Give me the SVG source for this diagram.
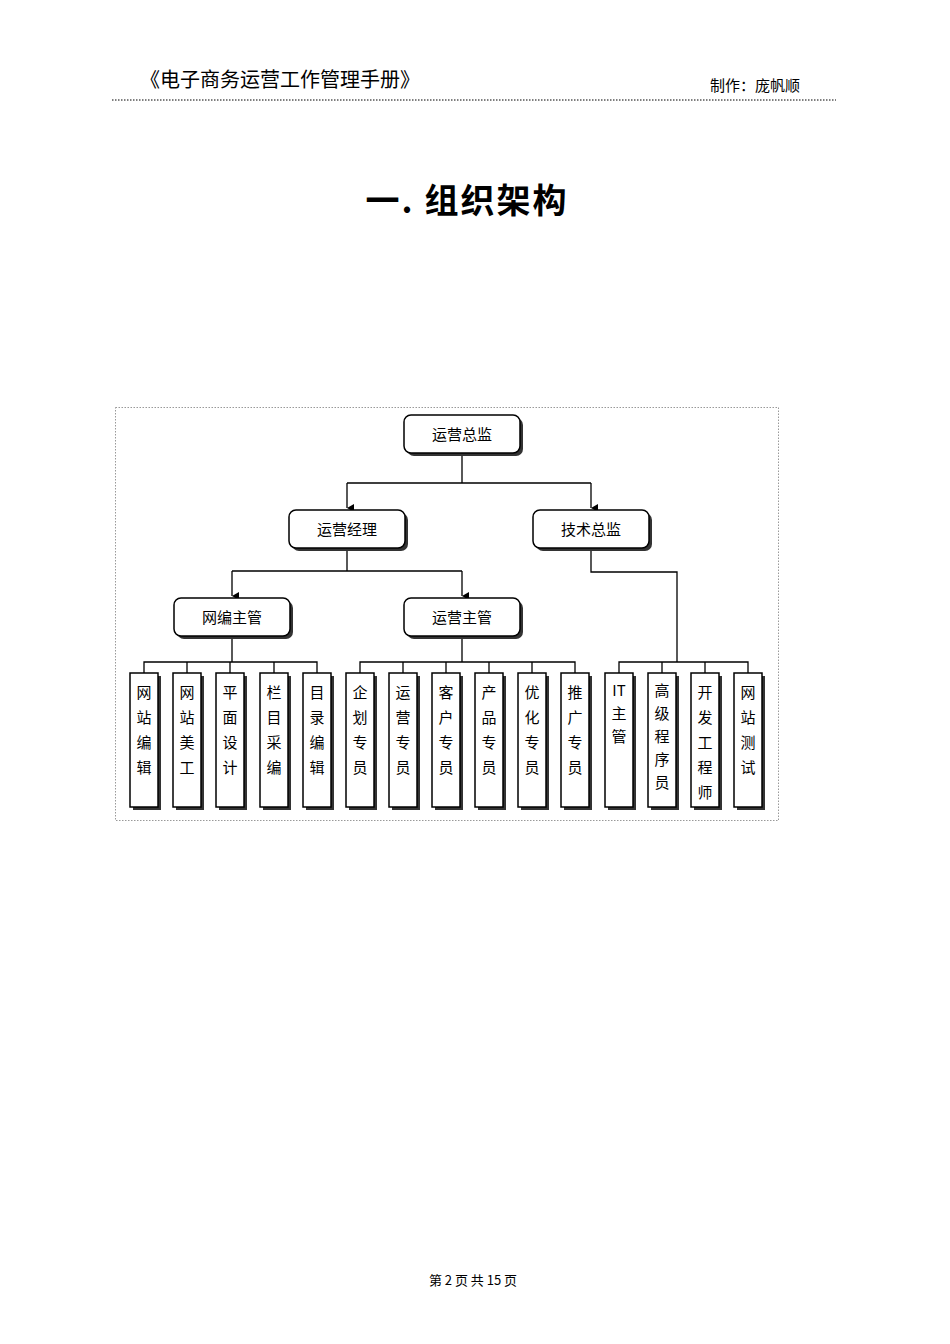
<svg xmlns="http://www.w3.org/2000/svg" width="950" height="1344" viewBox="0 0 950 1344">
<style>
text{font-family:"Noto Sans CJK SC","Liberation Sans",sans-serif;fill:#000}
.box{fill:#fff;stroke:#000;stroke-width:1.5}
.sh{fill:#333}
.ln{fill:none;stroke:#000;stroke-width:1.3}
.t{font-size:15px;text-anchor:middle}
.v{font-size:15px;text-anchor:middle}
</style>
<defs><marker id="a" markerWidth="8" markerHeight="8" refX="4" refY="7" orient="auto" markerUnits="userSpaceOnUse"><path d="M0,0 L8,0 L4,7 z" fill="#000"/></marker></defs>
<rect width="950" height="1344" fill="#fff"/>
<text x="140" y="87" font-size="20">《电子商务运营工作管理手册》</text>
<text x="710" y="91" font-size="15">制作：庞帆顺</text>
<line x1="112" y1="100" x2="836" y2="100" stroke="#000" stroke-dasharray="1.5,1.5"/>
<text x="467" y="213" font-size="34" font-weight="bold" text-anchor="middle" letter-spacing="2">一. 组织架构</text>
<rect x="115.5" y="407.5" width="663" height="413" fill="none" stroke="#999" stroke-dasharray="1.5,1.5"/>
<g id="connectors">
<path class="ln" d="M462,453V483M347,483H591M347,483V508" marker-end="url(#a)"/>
<path class="ln" d="M591,483V508" marker-end="url(#a)"/>
<path class="ln" d="M347,548V571M232,571H462M232,571V596" marker-end="url(#a)"/>
<path class="ln" d="M462,571V596" marker-end="url(#a)"/>
<path class="ln" d="M232,636V662M144,673V662H317V673M187,662V673M230,662V673M274,662V673"/>
<path class="ln" d="M462,636V662M360,673V662H575V673M403,662V673M446,662V673M489,662V673M532,662V673"/>
<path class="ln" d="M591,548V572H677V662M619,673V662H748V673M662,662V673M705,662V673"/>
</g>
<g id="n1"><rect class="sh" x="407" y="418" width="116" height="38" rx="7"/><rect class="box" x="404" y="415" width="116" height="38" rx="7"/><text class="t" x="462" y="440">运营总监</text></g>
<g id="n2"><rect class="sh" x="292" y="513" width="116" height="38" rx="7"/><rect class="box" x="289" y="510" width="116" height="38" rx="7"/><text class="t" x="347" y="535">运营经理</text></g>
<g id="n3"><rect class="sh" x="536" y="513" width="116" height="38" rx="7"/><rect class="box" x="533" y="510" width="116" height="38" rx="7"/><text class="t" x="591" y="535">技术总监</text></g>
<g id="n4"><rect class="sh" x="177" y="601" width="116" height="38" rx="7"/><rect class="box" x="174" y="598" width="116" height="38" rx="7"/><text class="t" x="232" y="623">网编主管</text></g>
<g id="n5"><rect class="sh" x="407" y="601" width="116" height="38" rx="7"/><rect class="box" x="404" y="598" width="116" height="38" rx="7"/><text class="t" x="462" y="623">运营主管</text></g>
<g id="leaves">
<g id="l1"><rect class="sh" x="133" y="676" width="28" height="134"/><rect class="box" x="130" y="673" width="28" height="134"/><text class="v" x="144" y="698">网<tspan x="144" dy="25">站</tspan><tspan x="144" dy="25">编</tspan><tspan x="144" dy="25">辑</tspan></text></g>
<g id="l2"><rect class="sh" x="176" y="676" width="28" height="134"/><rect class="box" x="173" y="673" width="28" height="134"/><text class="v" x="187" y="698">网<tspan x="187" dy="25">站</tspan><tspan x="187" dy="25">美</tspan><tspan x="187" dy="25">工</tspan></text></g>
<g id="l3"><rect class="sh" x="219" y="676" width="28" height="134"/><rect class="box" x="216" y="673" width="28" height="134"/><text class="v" x="230" y="698">平<tspan x="230" dy="25">面</tspan><tspan x="230" dy="25">设</tspan><tspan x="230" dy="25">计</tspan></text></g>
<g id="l4"><rect class="sh" x="263" y="676" width="28" height="134"/><rect class="box" x="260" y="673" width="28" height="134"/><text class="v" x="274" y="698">栏<tspan x="274" dy="25">目</tspan><tspan x="274" dy="25">采</tspan><tspan x="274" dy="25">编</tspan></text></g>
<g id="l5"><rect class="sh" x="306" y="676" width="28" height="134"/><rect class="box" x="303" y="673" width="28" height="134"/><text class="v" x="317" y="698">目<tspan x="317" dy="25">录</tspan><tspan x="317" dy="25">编</tspan><tspan x="317" dy="25">辑</tspan></text></g>
<g id="l6"><rect class="sh" x="349" y="676" width="28" height="134"/><rect class="box" x="346" y="673" width="28" height="134"/><text class="v" x="360" y="698">企<tspan x="360" dy="25">划</tspan><tspan x="360" dy="25">专</tspan><tspan x="360" dy="25">员</tspan></text></g>
<g id="l7"><rect class="sh" x="392" y="676" width="28" height="134"/><rect class="box" x="389" y="673" width="28" height="134"/><text class="v" x="403" y="698">运<tspan x="403" dy="25">营</tspan><tspan x="403" dy="25">专</tspan><tspan x="403" dy="25">员</tspan></text></g>
<g id="l8"><rect class="sh" x="435" y="676" width="28" height="134"/><rect class="box" x="432" y="673" width="28" height="134"/><text class="v" x="446" y="698">客<tspan x="446" dy="25">户</tspan><tspan x="446" dy="25">专</tspan><tspan x="446" dy="25">员</tspan></text></g>
<g id="l9"><rect class="sh" x="478" y="676" width="28" height="134"/><rect class="box" x="475" y="673" width="28" height="134"/><text class="v" x="489" y="698">产<tspan x="489" dy="25">品</tspan><tspan x="489" dy="25">专</tspan><tspan x="489" dy="25">员</tspan></text></g>
<g id="l10"><rect class="sh" x="521" y="676" width="28" height="134"/><rect class="box" x="518" y="673" width="28" height="134"/><text class="v" x="532" y="698">优<tspan x="532" dy="25">化</tspan><tspan x="532" dy="25">专</tspan><tspan x="532" dy="25">员</tspan></text></g>
<g id="l11"><rect class="sh" x="564" y="676" width="28" height="134"/><rect class="box" x="561" y="673" width="28" height="134"/><text class="v" x="575" y="698">推<tspan x="575" dy="25">广</tspan><tspan x="575" dy="25">专</tspan><tspan x="575" dy="25">员</tspan></text></g>
<g id="l12"><rect class="sh" x="608" y="676" width="28" height="134"/><rect class="box" x="605" y="673" width="28" height="134"/><text class="v" x="619" y="696">IT<tspan x="619" dy="23">主</tspan><tspan x="619" dy="23">管</tspan></text></g>
<g id="l13"><rect class="sh" x="651" y="676" width="28" height="134"/><rect class="box" x="648" y="673" width="28" height="134"/><text class="v" x="662" y="696">高<tspan x="662" dy="23">级</tspan><tspan x="662" dy="23">程</tspan><tspan x="662" dy="23">序</tspan><tspan x="662" dy="23">员</tspan></text></g>
<g id="l14"><rect class="sh" x="694" y="676" width="28" height="134"/><rect class="box" x="691" y="673" width="28" height="134"/><text class="v" x="705" y="698">开<tspan x="705" dy="25">发</tspan><tspan x="705" dy="25">工</tspan><tspan x="705" dy="25">程</tspan><tspan x="705" dy="25">师</tspan></text></g>
<g id="l15"><rect class="sh" x="737" y="676" width="28" height="134"/><rect class="box" x="734" y="673" width="28" height="134"/><text class="v" x="748" y="698">网<tspan x="748" dy="25">站</tspan><tspan x="748" dy="25">测</tspan><tspan x="748" dy="25">试</tspan></text></g>
</g>
<text x="473" y="1285" font-size="13" text-anchor="middle">第 2 页 共 15 页</text>
</svg>
